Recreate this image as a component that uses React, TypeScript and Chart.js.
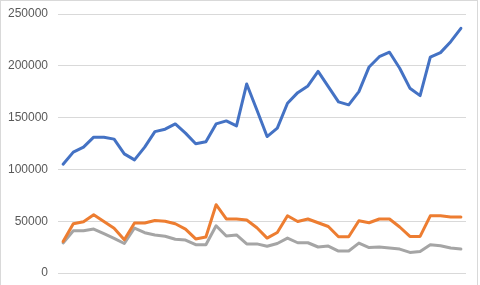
import React, { useEffect, useRef } from "react";
import { Chart, registerables } from "chart.js";

Chart.register(...registerables);

const categories: string[] = Array.from({ length: 40 }, (_, i) => String(i + 1));

const seriesBlue: number[] = [
  105000, 116700, 121500, 131100, 131100, 129200, 115000, 109200, 121500, 136500,
  138800, 143900, 135000, 124700, 126600, 143900, 146800, 142000, 182500, 157400,
  131700, 139800, 163900, 174100, 180600, 194600, 179900, 165200, 162300, 175100,
  198900, 208800, 213100, 197600, 178400, 171200, 208300, 212700, 223300, 236200,
];

const seriesOrange: number[] = [
  30500, 47500, 49500, 56200, 49700, 43200, 32100, 48200, 48200, 50700,
  49900, 47500, 42400, 32900, 34700, 65900, 52200, 52200, 51100, 43700,
  33700, 39100, 55200, 49700, 52100, 48500, 44900, 35000, 35000, 50400,
  48500, 52100, 52100, 44400, 35300, 35300, 55200, 55200, 54000, 54000,
];

const seriesGray: number[] = [
  29000, 40800, 40800, 42400, 37900, 33500, 28500, 43400, 38900, 36700,
  35500, 32600, 31800, 27300, 27300, 45600, 35700, 36700, 28100, 28100,
  25800, 28500, 33700, 29200, 29200, 25100, 26000, 21200, 21200, 28900,
  24600, 25100, 24100, 23100, 19900, 20800, 27300, 26300, 24100, 23100,
];

const yTicks = { min: 0, max: 250000, step: 50000 };

export default function App() {
  const canvasRef = useRef<HTMLCanvasElement | null>(null);

  useEffect(() => {
    document.body.style.margin = "0";
    const canvas = canvasRef.current;
    if (!canvas) return;
    const mk = (data: number[], color: string) => ({
      data,
      borderColor: color,
      backgroundColor: color,
      borderWidth: 3,
      pointRadius: 0,
      tension: 0,
      borderJoinStyle: "round" as const,
      borderCapStyle: "round" as const,
      fill: false,
    });
    const chart = new Chart(canvas, {
      type: "line",
      data: {
        labels: categories,
        datasets: [
          mk(seriesBlue, "#4472C4"),
          mk(seriesOrange, "#ED7D31"),
          mk(seriesGray, "#A5A5A5"),
        ],
      },
      options: {
        animation: false,
        responsive: false,
        maintainAspectRatio: false,
        layout: { padding: { left: 0, right: 14, top: 14, bottom: 12 } },
        plugins: { legend: { display: false }, tooltip: { enabled: false } },
        scales: {
          x: { type: "category", display: false, offset: true },
          y: {
            min: yTicks.min,
            max: yTicks.max,
            afterFit: (s: any) => {
              s.width = 58;
              s.paddingTop = 0;
              s.paddingBottom = 0;
            },
            border: { display: false },
            grid: { color: "#D9D9D9", lineWidth: 1, drawTicks: false },
            ticks: {
              stepSize: yTicks.step,
              padding: 10,
              color: "#595959",
              font: { family: "'Liberation Sans', Arial, sans-serif", size: 12 },
              callback: (v: any) => String(v),
            },
          },
        },
      },
    });
    return () => chart.destroy();
  }, []);

  return (
    <div style={{ position: "relative", width: 480, height: 285, overflow: "hidden", background: "#fff" }}>
      <canvas ref={canvasRef} width={480} height={285} style={{ position: "absolute", left: 0, top: 0 }} />
      <div
        style={{
          position: "absolute",
          left: 0,
          top: 0,
          width: 478,
          height: 300,
          boxSizing: "border-box",
          border: "1px solid #D9D9D9",
          pointerEvents: "none",
        }}
      />
    </div>
  );
}
